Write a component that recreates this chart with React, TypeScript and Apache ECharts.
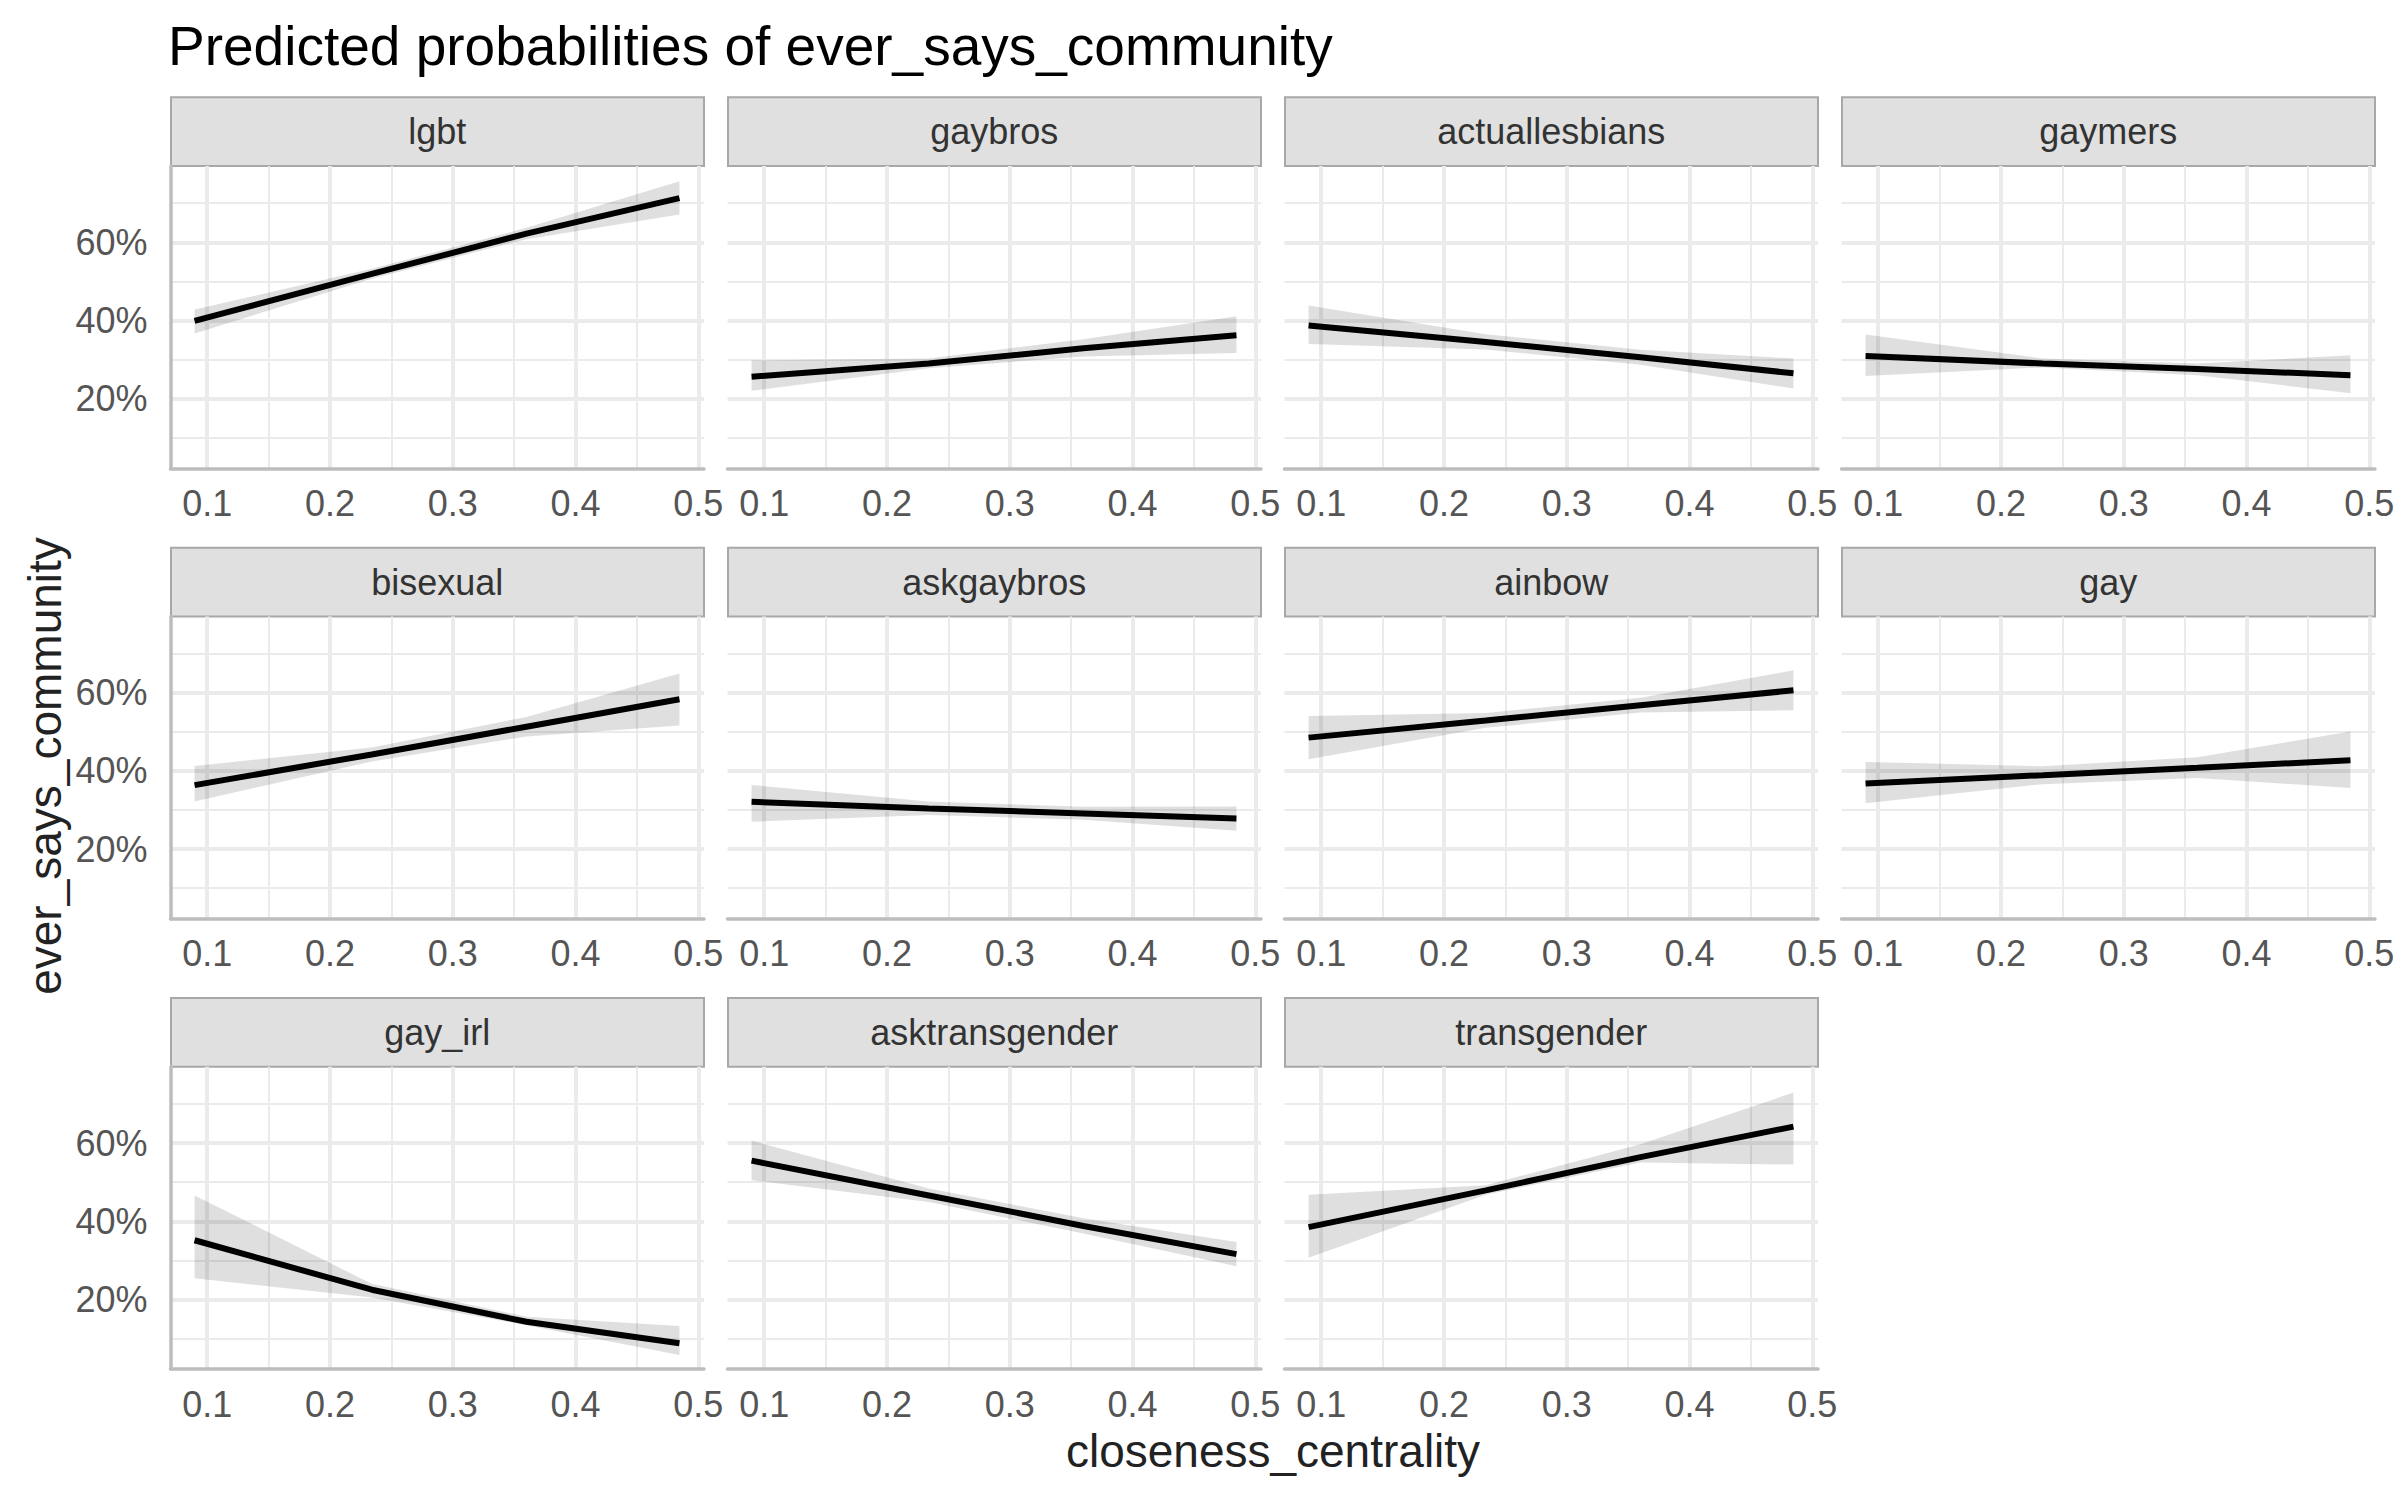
import React, { useEffect, useRef } from 'react';
import * as echarts from 'echarts';

// ---- data ----
const PANELS = ['lgbt', 'gaybros', 'actuallesbians', 'gaymers', 'bisexual', 'askgaybros', 'ainbow', 'gay', 'gay_irl', 'asktransgender', 'transgender'];
const X_POINTS = [0.0897, 0.234, 0.36, 0.4846];
// predicted probability (%) per panel at X_POINTS
const FIT = [
  [39.9, 51.9, 62.2, 71.3],
  [25.6, 29.0, 32.9, 36.2],
  [38.7, 34.5, 30.6, 26.5],
  [30.9, 29.0, 27.6, 26.0],
  [36.35, 44.2, 51.3, 58.3],
  [32.1, 30.4, 29.1, 27.8],
  [48.5, 52.9, 56.8, 60.6],
  [36.8, 38.9, 40.8, 42.7],
  [35.15, 22.5, 14.3, 8.8],
  [55.5, 46.6, 38.8, 31.6],
  [38.5, 47.9, 56.4, 64.2],
];
const LOWER = [
  [36.7, 50.7, 60.8, 67.1],
  [22.0, 27.8, 30.8, 31.7],
  [34.0, 32.6, 28.7, 22.6],
  [25.8, 28.0, 26.0, 21.4],
  [32.2, 42.4, 48.8, 51.6],
  [27.0, 28.7, 27.5, 24.7],
  [43.0, 51.0, 54.9, 55.5],
  [31.7, 36.6, 38.2, 35.6],
  [25.4, 20.5, 13.4, 5.8],
  [50.5, 44.9, 36.9, 28.5],
  [30.7, 46.8, 55.0, 54.5],
];
const UPPER = [
  [42.8, 53.2, 63.7, 75.6],
  [29.8, 30.3, 35.2, 41.1],
  [43.8, 36.5, 32.5, 30.3],
  [36.4, 30.3, 29.0, 31.1],
  [41.25, 46.0, 53.8, 64.9],
  [36.4, 32.2, 30.8, 30.9],
  [54.0, 54.8, 58.7, 65.7],
  [42.3, 41.2, 43.5, 50.1],
  [46.6, 24.0, 15.6, 13.2],
  [60.6, 48.4, 40.8, 34.7],
  [46.8, 49.2, 59.7, 72.9],
];
const X_RANGE = [0.0701, 0.5046];
const Y_RANGE = [2.2, 79.5];
const TITLE = 'Predicted probabilities of ever_says_community';
const X_TITLE = 'closeness_centrality';
const Y_TITLE = 'ever_says_community';

// ---- layout ----
const COL_LEFT = [170.5, 727.5, 1284.5, 1841.5];
const ROW_TOP = [166, 616.4, 1066.8];
const PANEL_W = 533.5;
const PANEL_H = 302.3;
const STRIP_H = 68.7;
const FONT = '"Liberation Sans", Arial, Helvetica, sans-serif';

const GRID_COLOR = '#EBEBEB';
const AXIS_COLOR = '#BDBDBD';
const TICK_COLOR = '#555555';

function buildOption() {
  const grids: any[] = [];
  const xAxes: any[] = [];
  const yAxes: any[] = [];
  const series: any[] = [];
  const graphics: any[] = [];

  PANELS.forEach((name, i) => {
    const col = i % 4;
    const row = Math.floor(i / 4);
    const left = COL_LEFT[col];
    const top = ROW_TOP[row];
    grids.push({ left, top, width: PANEL_W, height: PANEL_H, containLabel: false, outerBoundsMode: 'none' });
    xAxes.push({
      type: 'value',
      gridIndex: i,
      min: X_RANGE[0],
      max: X_RANGE[1],
      axisLine: { show: true, onZero: false, lineStyle: { color: AXIS_COLOR, width: 3.5 } },
      axisTick: { show: false },
      axisLabel: {
        show: true,
        margin: 17,
        fontSize: 36,
        color: TICK_COLOR,
        fontFamily: FONT,
        formatter: (v: number) => (Math.abs(v * 10 - Math.round(v * 10)) < 1e-6 ? v.toFixed(1) : ''),
      },
      splitLine: { show: true, showMinLine: false, showMaxLine: false, lineStyle: { color: GRID_COLOR, width: 4 } },
      minorTick: { show: false, splitNumber: 2 },
      minorSplitLine: { show: true, lineStyle: { color: GRID_COLOR, width: 2 } },
    });
    yAxes.push({
      type: 'value',
      gridIndex: i,
      min: Y_RANGE[0],
      max: Y_RANGE[1],
      axisLine: { show: col === 0, onZero: false, lineStyle: { color: AXIS_COLOR, width: 3.5 } },
      axisTick: { show: false },
      axisLabel: {
        show: col === 0,
        margin: 23,
        fontSize: 36,
        color: TICK_COLOR,
        fontFamily: FONT,
        formatter: (v: number) => (Math.abs(v - Math.round(v)) < 1e-6 ? `${Math.round(v)}%` : ''),
      },
      splitLine: { show: true, showMinLine: false, showMaxLine: false, lineStyle: { color: GRID_COLOR, width: 4 } },
      minorTick: { show: false, splitNumber: 2 },
      minorSplitLine: { show: true, lineStyle: { color: GRID_COLOR, width: 2 } },
    });

    const lo = LOWER[i];
    const hi = UPPER[i];
    series.push({
      type: 'custom',
      xAxisIndex: i,
      yAxisIndex: i,
      silent: true,
      z: 2,
      data: [[X_POINTS[0], FIT[i][0]]],
      renderItem: (_params: any, api: any) => {
        const pts: number[][] = [];
        for (let k = 0; k < X_POINTS.length; k++) pts.push(api.coord([X_POINTS[k], hi[k]]));
        for (let k = X_POINTS.length - 1; k >= 0; k--) pts.push(api.coord([X_POINTS[k], lo[k]]));
        return { type: 'polygon', shape: { points: pts }, style: { fill: 'rgba(0,0,0,0.125)' } };
      },
    });
    series.push({
      type: 'line',
      xAxisIndex: i,
      yAxisIndex: i,
      silent: true,
      z: 3,
      symbol: 'none',
      data: X_POINTS.map((x, k) => [x, FIT[i][k]]),
      lineStyle: { color: '#000000', width: 6, cap: 'butt' },
    });

    graphics.push({
      type: 'rect',
      shape: { x: left + 0.5, y: top - STRIP_H, width: PANEL_W - 0.5, height: STRIP_H },
      style: { fill: '#E0E0E0', stroke: '#A8A8A8', lineWidth: 2 },
      silent: true,
    });
    graphics.push({
      type: 'text',
      x: left + PANEL_W / 2,
      y: top - STRIP_H / 2,
      style: { text: name, fontSize: 36, fontFamily: FONT, fill: '#333333', align: 'center', verticalAlign: 'middle' },
      silent: true,
    });
  });

  graphics.push({
    type: 'text',
    x: 168,
    y: 45.5,
    style: { text: TITLE, fontSize: 55, fontFamily: FONT, fill: '#000000', align: 'left', verticalAlign: 'middle' },
    silent: true,
  });
  graphics.push({
    type: 'text',
    x: 1273,
    y: 1451,
    style: { text: X_TITLE, fontSize: 46, fontFamily: FONT, fill: '#222222', align: 'center', verticalAlign: 'middle' },
    silent: true,
  });
  graphics.push({
    type: 'text',
    x: 45,
    y: 766,
    rotation: Math.PI / 2,
    style: { text: Y_TITLE, fontSize: 46, fontFamily: FONT, fill: '#222222', align: 'center', verticalAlign: 'middle' },
    silent: true,
  });

  return {
    animation: false,
    backgroundColor: '#FFFFFF',
    textStyle: { fontFamily: FONT },
    grid: grids,
    xAxis: xAxes,
    yAxis: yAxes,
    series,
    graphic: graphics,
  };
}

export default function App() {
  const ref = useRef<HTMLDivElement>(null);
  useEffect(() => {
    if (!ref.current) return;
    const chart = echarts.init(ref.current, undefined, { renderer: 'svg' });
    chart.setOption(buildOption() as any);
    return () => chart.dispose();
  }, []);
  return (
    <div
      ref={ref}
      style={{ position: 'absolute', left: 0, top: 0, width: 2400, height: 1500, background: '#FFFFFF' }}
    />
  );
}
